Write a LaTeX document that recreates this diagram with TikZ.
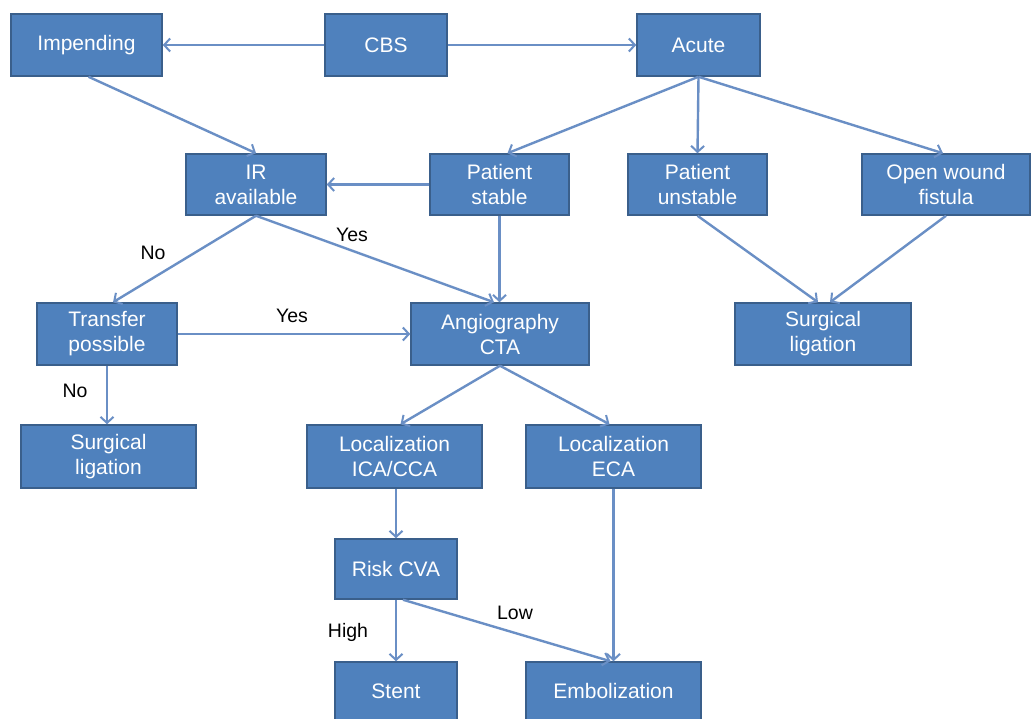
\documentclass[tikz,border=0pt]{standalone}
\usepackage{fontspec}
\setmainfont{Liberation Sans}
\usetikzlibrary{arrows.meta}
\definecolor{boxfill}{HTML}{4F81BD}
\definecolor{boxline}{HTML}{3A5F8B}
\definecolor{conn}{HTML}{6A8FC5}
\begin{document}
\begin{tikzpicture}[x=1pt,y=-1pt,
  box/.style={draw=boxline, line width=1.5pt, fill=boxfill, text=white, align=center,
    inner sep=0pt, font=\fontsize{21}{25}\selectfont},
  lbl/.style={text=black, inner sep=0pt, font=\fontsize{19.5}{23}\selectfont},
  arr/.style={draw=conn, line width=2.4pt, -{Straight Barb[length=6pt,width=13pt,line width=2pt]}}]
\useasboundingbox (0,0) rectangle (1031,719);
\fill[white] (0,0) rectangle (1031,719);
% boxes
\node[box, minimum width=151pt, minimum height=62pt] (imp) at (86.5,45) {Impending};
\node[box, minimum width=122pt, minimum height=62pt] (cbs) at (386,45) {CBS};
\node[box, minimum width=123pt, minimum height=62pt] (acute) at (698.5,45) {Acute};
\node[box, minimum width=140pt, minimum height=61pt] (ir) at (256,184.5) {IR\\available};
\node[box, minimum width=139pt, minimum height=61pt] (ps) at (499.5,184.5) {Patient\\stable};
\node[box, minimum width=139pt, minimum height=61pt] (pu) at (697.5,184.5) {Patient\\unstable};
\node[box, minimum width=168pt, minimum height=61pt] (ow) at (946,184.5) {Open wound\\fistula};
\node[box, minimum width=140pt, minimum height=62pt] (tp) at (107,334) {Transfer\\possible};
\node[box, minimum width=178pt, minimum height=62pt] (ang) at (500,334) {Angiography\\CTA};
\node[box, minimum width=176pt, minimum height=62pt] (slr) at (823,334) {Surgical\\ligation};
\node[box, minimum width=175pt, minimum height=63pt] (sll) at (108.5,456.5) {Surgical\\ligation};
\node[box, minimum width=175pt, minimum height=63pt] (ica) at (394.5,456.5) {Localization\\ICA/CCA};
\node[box, minimum width=175pt, minimum height=63pt] (eca) at (613.5,456.5) {Localization\\ECA};
\node[box, minimum width=122pt, minimum height=60pt] (risk) at (396,569) {Risk CVA};
\node[box, minimum width=122pt, minimum height=58pt] (stent) at (396,691) {Stent};
\node[box, minimum width=175pt, minimum height=58pt] (emb) at (613.5,691) {Embolization};
% connectors
\draw[arr] (cbs.west) -- (imp.east);
\draw[arr] (cbs.east) -- (acute.west);
\draw[arr] ([xshift=2pt]imp.south) -- (ir.north);
\draw[arr] (acute.south) -- ([xshift=8pt]ps.north);
\draw[arr] (acute.south) -- (pu.north);
\draw[arr] (acute.south) -- ([xshift=-3pt]ow.north);
\draw[arr] (ps.west) -- (ir.east);
\draw[arr] (ir.south) -- ([xshift=6pt]tp.north);
\draw[arr] (ir.south) -- ([xshift=-6pt]ang.north);
\draw[arr] (ps.south) -- (ps.south |- ang.north);
\draw[arr] (tp.east) -- (tp.east -| ang.west);
\draw[arr] (tp.south) -- (tp.south |- sll.north);
\draw[arr] (pu.south) -- ([xshift=-5pt]slr.north);
\draw[arr] (ow.south) -- ([xshift=7pt]slr.north);
\draw[arr] (ang.south) -- ([xshift=6pt]ica.north);
\draw[arr] (ang.south) -- ([xshift=-4pt]eca.north);
\draw[arr] (risk.north |- ica.south) -- (risk.north);
\draw[arr] (risk.south) -- (stent.north);
\draw[arr] ([xshift=7pt]risk.south) -- ([xshift=-3pt]emb.north);
\draw[arr] (eca.south) -- (eca.south |- emb.north);
% labels
\node[lbl] (lno1) at (153,253) {No};
\node[lbl] (lyes1) at (352,235) {Yes};
\node[lbl] (lyes2) at (292,316) {Yes};
\node[lbl] (lno2) at (75,391) {No};
\node[lbl] (lhigh) at (348,632) {High};
\node[lbl] (llow) at (515,613) {Low};
\end{tikzpicture}
\end{document}
